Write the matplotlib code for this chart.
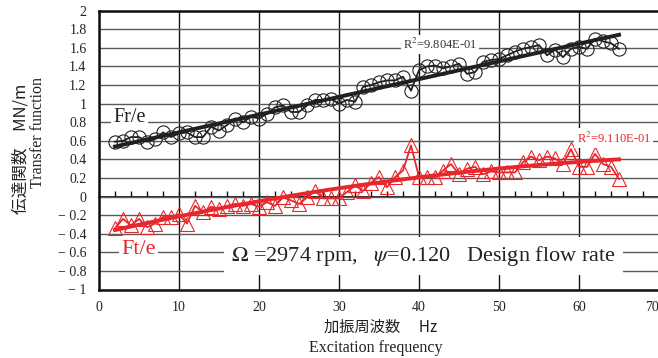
import numpy as np
import matplotlib
matplotlib.use("Agg")
import matplotlib.pyplot as plt
from matplotlib.ticker import FixedLocator, FixedFormatter

plt.rcParams['font.family'] = ['Liberation Serif', 'Noto Sans CJK JP']
plt.rcParams['mathtext.fontset'] = 'stix'

# ---------------- data ----------------
freq = list(range(2, 66))
fr_e = [0.59, 0.60, 0.64, 0.64, 0.59, 0.62, 0.69, 0.64, 0.68, 0.69,
        0.64, 0.64, 0.75, 0.71, 0.77, 0.84, 0.80, 0.86, 0.84, 0.89,
        0.96, 0.98, 0.91, 0.91, 0.98, 1.04, 1.04, 1.05, 1.00, 1.04,
        1.02, 1.18, 1.20, 1.23, 1.25, 1.25, 1.29, 1.14, 1.36, 1.40,
        1.41, 1.38, 1.40, 1.43, 1.32, 1.34, 1.45, 1.47, 1.48, 1.52,
        1.56, 1.59, 1.61, 1.63, 1.52, 1.58, 1.50, 1.59, 1.61, 1.59,
        1.70, 1.67, 1.65, 1.59]
ft_e = [-0.34, -0.24, -0.31, -0.24, -0.33, -0.29, -0.22, -0.22, -0.19, -0.29,
        -0.10, -0.17, -0.11, -0.13, -0.10, -0.08, -0.10, -0.08, -0.11, -0.06,
        -0.10, -0.01, -0.04, -0.08, -0.01, 0.06, -0.02, -0.02, -0.02, 0.05,
        0.12, 0.06, 0.15, 0.21, 0.10, 0.21, 0.28, 0.55, 0.21, 0.21,
        0.21, 0.28, 0.35, 0.24, 0.30, 0.32, 0.24, 0.27, 0.26, 0.26,
        0.26, 0.37, 0.43, 0.39, 0.43, 0.41, 0.35, 0.51, 0.32, 0.32,
        0.46, 0.35, 0.32, 0.19]
y_ticks = [-1, -0.8, -0.6, -0.4, -0.2, 0, 0.2, 0.4, 0.6, 0.8, 1, 1.2, 1.4, 1.6, 1.8, 2]
y_tick_labels = ['− 1', '− 0.8', '− 0.6', '− 0.4', '− 0.2', '0', '0.2', '0.4', '0.6',
                 '0.8', '1', '1.2', '1.4', '1.6', '1.8', '2']
x_ticks = [0, 10, 20, 30, 40, 50, 60, 70]
r2_fr = "R$^2$=9.804E-01"
r2_ft = "R$^2$=9.110E-01"

BLACK = '#231f20'
RED = '#e8262c'

fig = plt.figure(figsize=(6.58, 3.58), dpi=100)
ax = fig.add_axes([99/658, 1-289.5/358, 560/658, (289.5-10.7)/358])
ax.set_xlim(0, 70)
ax.set_ylim(-1, 2)

# grid
ax.yaxis.set_major_locator(FixedLocator(y_ticks))
ax.yaxis.set_major_formatter(FixedFormatter(y_tick_labels))
ax.xaxis.set_major_locator(FixedLocator(x_ticks))
ax.grid(axis='y', color='#5a5a5a', lw=1.0, zorder=0)
ax.grid(axis='x', color='#111111', lw=1.0, zorder=0)
ax.tick_params(length=0, labelsize=10, colors='#222222', pad=9)
ax.tick_params(axis='x', pad=8)
for s in ax.spines.values():
    s.set_linewidth(1.8)
    s.set_color('#111111')
fig.canvas.draw()
ax.get_xticklabels()[-1].set_horizontalalignment('right')
ax.get_xticklabels()[-1].set_x(70)

# axis at y = 0 with small upward ticks
sec = ax.secondary_xaxis(1/3)
sec.set_xticks(np.arange(0, 71, 2))
sec.tick_params(direction='in', length=4, width=1, labelbottom=False, color='#111111')
sec.spines['bottom'].set_linewidth(1.2)

f = np.array(freq, dtype=float)
fr = np.array(fr_e)
ft = np.array(ft_e)

# Fr/e
ax.plot(f, fr, 'o', ms=9.5, mfc='none', mec=BLACK, mew=0.8, zorder=3)
ax.plot(f, fr, '-', color=BLACK, lw=1.3, zorder=4)
p1 = np.polyfit(f, fr, 1)
ax.plot(f, np.polyval(p1, f), '-', color=BLACK, lw=2.8, zorder=5)

# Ft/e
ax.plot(f, ft, '^', ms=9.5, mfc='none', mec=RED, mew=0.8, zorder=3)
ax.plot(f, ft, '-', color=RED, lw=1.3, zorder=4)
p2 = np.polyfit(f, ft, 2)
ax.plot(f, np.polyval(p2, f), '-', color=RED, lw=2.8, zorder=5)

box = dict(facecolor='white', edgecolor='none', pad=1.5)
ax.text(1.8, 0.855, 'Fr/e', fontsize=14.5, color=BLACK, va='center', ha='left', bbox=box, zorder=6)
ax.text(2.8, -0.57, 'Ft/e', fontsize=16, color=RED, va='center', ha='left', bbox=box, zorder=6)
ax.text(38.0, 1.635, r2_fr, fontsize=9, color='#333333', va='center', ha='left', bbox=box, zorder=6)
ax.text(59.7, 0.63, r2_ft, fontsize=9, color=RED, va='center', ha='left', bbox=box, zorder=6)
ax.text(16.5, -0.64, r'$\mathit{\Omega}$ =2974 rpm,   $\mathit{\psi}$=0.120   Design flow rate',
        fontsize=16, color='#222222', va='center', ha='left',
        bbox=dict(facecolor='white', edgecolor='none', pad=5), zorder=6)

# axis labels
fig.text(21/658, 1-149/358, '伝達関数　MN/m', rotation=90, fontsize=12, ha='center', va='center',
         color='#222222', family=['Noto Sans CJK JP', 'Liberation Serif'])
fig.text(38/658, 1-133/358, 'Transfer function', rotation=90, fontsize=11.5, ha='center', va='center',
         color='#222222')
fig.text(381/658, 1-327/358, '加振周波数　 Hz', fontsize=11, ha='center', va='center',
         color='#222222', family=['Noto Sans CJK JP', 'Liberation Serif'])
fig.text(376/658, 1-348/358, 'Excitation frequency', fontsize=11.5, ha='center', va='center',
         color='#222222')

fig.savefig('out.png', dpi=100)
